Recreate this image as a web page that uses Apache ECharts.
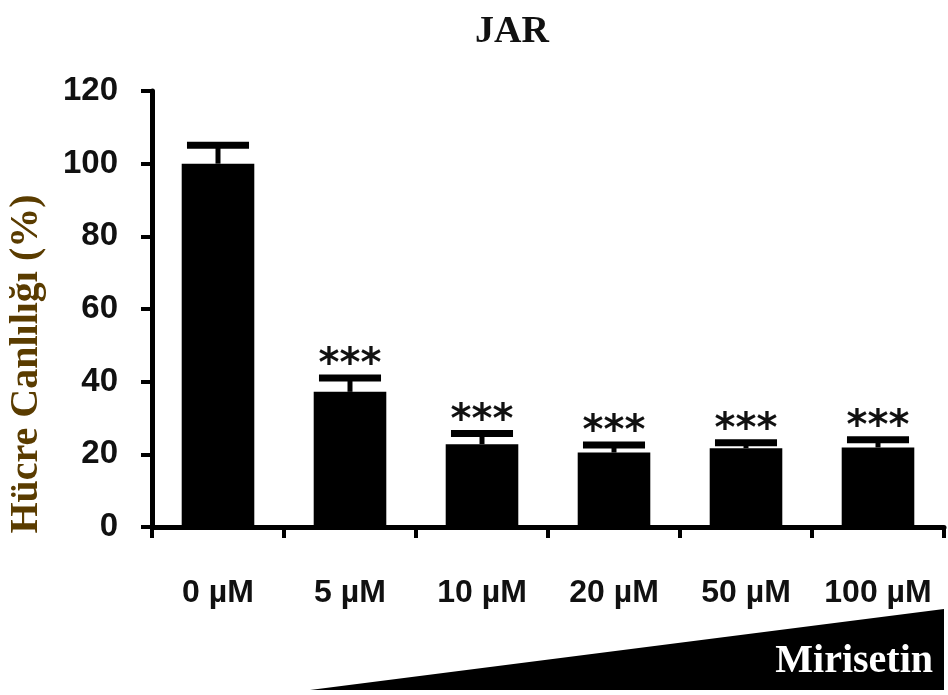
<!DOCTYPE html>
<html>
<head>
<meta charset="utf-8">
<script src="https://cdn.jsdelivr.net/npm/echarts@6/dist/echarts.min.js"></script>
<style>
html,body{margin:0;padding:0;background:#fff;}
#chart{width:948px;height:695px;}
</style>
</head>
<body>
<div id="chart"></div>
<script>
const categories = ['0 µM', '5 µM', '10 µM', '20 µM', '50 µM', '100 µM'];
const viability = [100, 37.2, 22.8, 20.5, 21.7, 21.9];
const errors = [5.1, 3.8, 2.9, 2.1, 1.5, 2.1];
const significance = ['', '***', '***', '***', '***', '***'];
const yTicks = [0, 20, 40, 60, 80, 100, 120];

const chart = echarts.init(document.getElementById('chart'), null, {renderer: 'canvas'});

const errData = categories.map((c, i) => [i, viability[i], errors[i], significance[i]]);

const option = {
  animation: false,
  backgroundColor: '#ffffff',
  title: {
    text: 'JAR',
    left: 470,
    top: 8,
    textStyle: {fontFamily: 'Liberation Serif', fontWeight: 'bold', fontSize: 38, color: '#111'}
  },
  grid: {left: 152, right: 4, top: 91, bottom: 168, containLabel: false},
  xAxis: {
    type: 'category',
    data: categories,
    boundaryGap: true,
    axisLine: {show: true, lineStyle: {color: '#000', width: 5}},
    axisTick: {show: true, interval: 0, length: 11, lineStyle: {color: '#000', width: 4}, alignWithLabel: false},
    axisLabel: {interval: 0, margin: 50, fontFamily: 'Liberation Sans', fontWeight: 'bold', fontSize: 32, color: '#111'},
    splitLine: {show: false}
  },
  yAxis: {
    type: 'value',
    min: yTicks[0],
    max: yTicks[yTicks.length - 1],
    interval: 20,
    axisLine: {show: true, lineStyle: {color: '#000', width: 5}},
    axisTick: {show: true, length: 11, lineStyle: {color: '#000', width: 4}},
    axisLabel: {margin: 34, fontFamily: 'Liberation Sans', fontWeight: 'bold', fontSize: 33, color: '#111'},
    splitLine: {show: false}
  },
  series: [
    {
      type: 'bar',
      data: viability,
      barWidth: '55%',
      itemStyle: {color: '#000'},
      z: 2
    },
    {
      type: 'custom',
      data: errData,
      z: 3,
      renderItem: function (params, api) {
        const i = api.value(0);
        const mean = api.value(1);
        const err = api.value(2);
        const star = significance[i];
        const base = api.coord([i, mean]);
        const top = api.coord([i, mean + err]);
        const bw = api.size([1, 0])[0];
        const capW = bw * 0.47;
        const children = [
          {type: 'rect', shape: {x: base[0] - 2.5, y: top[1], width: 5, height: base[1] - top[1]}, style: {fill: '#000'}},
          {type: 'rect', shape: {x: top[0] - capW / 2, y: top[1] - 3.5, width: capW, height: 7}, style: {fill: '#000'}}
        ];
        if (star) {
          children.push({
            type: 'text',
            style: {
              text: star,
              x: top[0],
              y: top[1] - 12,
              align: 'center',
              verticalAlign: 'middle',
              font: 'bold 40px "DejaVu Sans"',
              fill: '#111'
            }
          });
        }
        return {type: 'group', children: children};
      }
    }
  ],
  graphic: [
    {
      type: 'text',
      x: 27,
      y: 364,
      rotation: Math.PI / 2,
      style: {
        text: 'Hücre Canlılığı (%)',
        font: 'bold 40px "Liberation Serif"',
        fill: '#5a3c00',
        align: 'center',
        verticalAlign: 'middle'
      }
    },
    {
      type: 'polygon',
      shape: {points: [[310, 690], [944, 609], [944, 690]]},
      style: {fill: '#000'}
    },
    {
      type: 'text',
      x: 933,
      y: 662,
      style: {
        text: 'Mirisetin',
        font: 'bold 40px "Liberation Serif"',
        fill: '#fff',
        align: 'right',
        verticalAlign: 'middle'
      }
    }
  ]
};
chart.setOption(option);
</script>
</body>
</html>
